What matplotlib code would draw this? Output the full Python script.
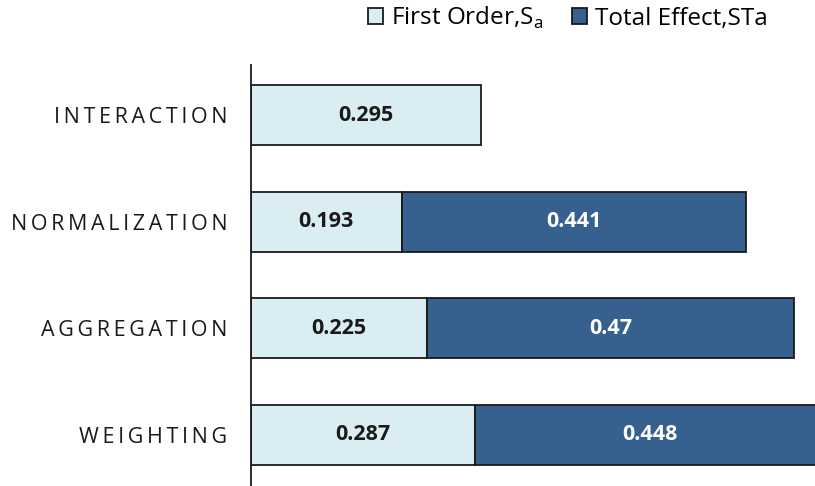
import matplotlib
matplotlib.use("Agg")
import matplotlib.pyplot as plt
import numpy as np
from matplotlib.patches import Patch

plt.rcParams['font.family'] = ['Open Sans', 'DejaVu Sans']
plt.rcParams['mathtext.fontset'] = 'custom'
plt.rcParams['mathtext.rm'] = 'Open Sans'

categories = ["INTERACTION", "NORMALIZATION", "AGGREGATION", "WEIGHTING"]
first_order = [0.295, 0.193, 0.225, 0.287]
total_effect = [0.0, 0.441, 0.47, 0.448]
series_names = ["First Order,S$_{\\mathregular{a}}$", "Total Effect,STa"]

light = "#DAEDF3"
dark = "#36618F"
ink = "#1a1a1a"


def tracked(label):
    # wide letter tracking for the category names
    return "\u2009".join(label)


fig = plt.figure(figsize=(8.15, 4.86), dpi=100)
ax = fig.add_axes([251 / 815, 0, 1 - 251 / 815, 1 - 65 / 486])

y = np.arange(len(categories))
h = 0.56
ax.barh(y, first_order, height=h, color=light, edgecolor=ink, linewidth=1.3)
te = np.array(total_effect)
mask = te > 0
ax.barh(y[mask], te[mask], left=np.array(first_order)[mask], height=h,
        color=dark, edgecolor=ink, linewidth=1.3)

for yi, f, t in zip(y, first_order, total_effect):
    ax.text(f / 2, yi, f"{f:g}", ha="center", va="center", fontsize=15.5,
            fontweight="bold", color=ink)
    if t > 0:
        ax.text(f + t / 2, yi, f"{t:g}", ha="center", va="center", fontsize=15.5,
                fontweight="bold", color="white")

ax.set_xlim(0, 0.722)
ax.set_ylim(3.48, -0.47)
ax.set_yticks(y)
ax.set_yticklabels([tracked(c) for c in categories], fontsize=15.5, color=ink)
ax.tick_params(axis="y", length=0, pad=17)
ax.set_xticks([])
for s in ["top", "right", "bottom"]:
    ax.spines[s].set_visible(False)
ax.spines["left"].set_linewidth(1.3)
ax.spines["left"].set_color(ink)

handles = [Patch(facecolor=light, edgecolor=ink, linewidth=1.3),
           Patch(facecolor=dark, edgecolor=ink, linewidth=1.3)]
fig.legend(handles, series_names, loc="center right",
           bbox_to_anchor=(768 / 815, 1 - 18 / 486),
           ncol=2, frameon=False, fontsize=17.5, handlelength=0.62,
           handleheight=0.62, handletextpad=0.32, columnspacing=1.2,
           borderpad=0, borderaxespad=0)

fig.savefig("out.png", dpi=100)
